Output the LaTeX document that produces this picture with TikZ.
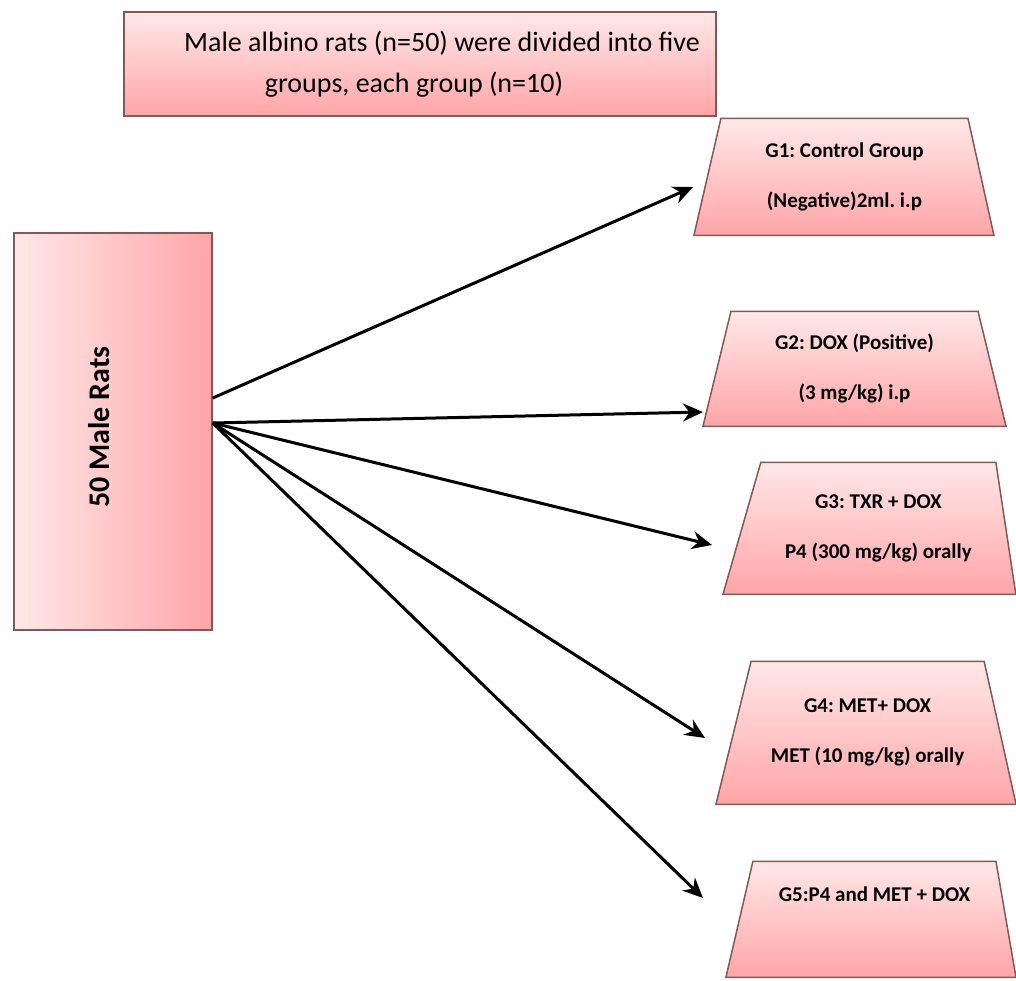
\documentclass[tikz,border=0pt]{standalone}
\usepackage{fontspec}
\setmainfont{Carlito}
\usetikzlibrary{arrows.meta}
\usetikzlibrary{shapes.geometric}
\usetikzlibrary{calc, math}
\definecolor{pinklight}{RGB}{255,232,232}
\definecolor{pinkdark}{RGB}{255,165,168}
\definecolor{boxline}{RGB}{130,88,88}
\newcommand{\grptxt}[3]{\parbox[c][#2][c]{#1}{\centering #3}}
\frenchspacing

\begin{document}
\begin{tikzpicture}[x=1pt,y=-1pt]
\tikzmath{
\W=1016; \H=980;
}
\useasboundingbox (0,0) rectangle (\W,\H);

\tikzset{
box/.style={draw=boxline, line width=1.5, align=center, inner sep=0},
grp/.style={box, trapezium, anchor=bottom left corner,
  top color=pinklight, bottom color=pinkdark,
  font=\fontsize{21}{50}\selectfont\bfseries},
arr/.style={line width=3, -{Stealth[length=20,width=18]}}
}

% title and source box
\node[box, minimum width=592, minimum height=104, top color=pinklight, bottom color=pinkdark,
  font=\fontsize{28}{41}\selectfont] (title) at (420,64)
  {\hspace*{44pt}Male albino rats (n=50) were divided into five\\groups, each group (n=10)\hspace*{12pt}};
\node[box, minimum width=198, minimum height=397, left color=pinklight, right color=pinkdark] (rats) at (113,431.5) {};
\node[rotate=90, font=\fontsize{30}{34}\selectfont\bfseries] (ratslbl) at (99,427) {50 Male Rats};

% groups
\node[grp, trapezium left angle=77, trapezium right angle=77.5] (g1) at (693,236)
  {\grptxt{247pt}{117pt}{G1: Control Group\\(Negative)2ml. i.p}};
\node[grp, trapezium left angle=76.3, trapezium right angle=76.3] (g2) at (702,427)
  {\grptxt{247pt}{115pt}{G2: DOX (Positive)\\(3 mg/kg) i.p}};
\node[grp, trapezium left angle=74, trapezium right angle=81.4] (g3) at (722,595)
  {\grptxt{235pt}{132pt}{G3: TXR + DOX\\P4 (300 mg/kg) orally}};
\node[grp, trapezium left angle=76.2, trapezium right angle=77.4] (g4) at (715,805)
  {\grptxt{233pt}{143pt}{G4: MET+ DOX\\MET (10 mg/kg) orally}};
\node[grp, trapezium left angle=76.9, trapezium right angle=80.2] (g5) at (725,978)
  {\grptxt{243pt}{116pt}{G5:P4 and MET + DOX\\\mbox{}}};

% arrows
\coordinate (s1) at ($(rats.east)+(0,-33.5)$);
\coordinate (s2) at ($(rats.east)+(0,-8.5)$);
\draw[arr] (s1) -- ($(g1.bottom left corner)+(0,-49)$);
\draw[arr] (s2) -- ($(g2.bottom left corner)+(1,-15)$);
\draw[arr] (s2) -- ($(g3.bottom left corner)+(-10,-50)$);
\draw[arr] (s2) -- ($(g4.bottom left corner)+(-10,-67)$);
\draw[arr] (s2) -- ($(g5.bottom left corner)+(-22,-80)$);

\end{tikzpicture}
\end{document}
